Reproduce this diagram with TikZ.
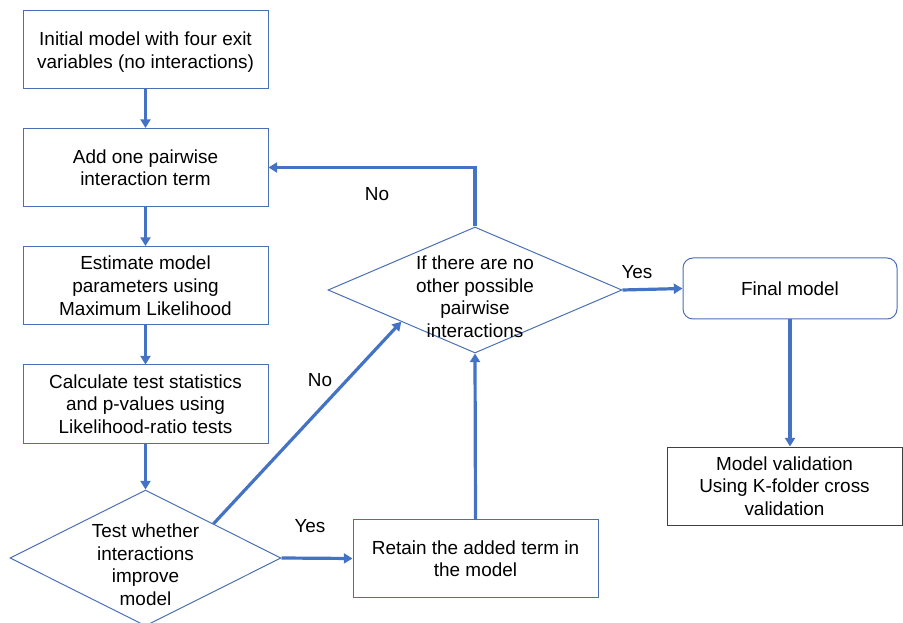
\documentclass[tikz,border=0pt]{standalone}
\usepackage{fontspec}
\setmainfont{Liberation Sans}
\usepackage{tikz}
\usetikzlibrary{arrows.meta,shapes.geometric}
\definecolor{fcBlue}{HTML}{4472C4}
\definecolor{fcEdge}{HTML}{4A6FB5}
\definecolor{fcGrey}{HTML}{404040}

\begin{document}
\begin{tikzpicture}[x=0.75pt,y=-0.75pt,
  font=\fontsize{14.2}{17}\selectfont,
  stepbox/.style={draw=fcEdge,line width=0.75pt,align=center,
    minimum width=183.75pt,minimum height=58.5pt,inner sep=0pt,
    text depth=-6pt},
  decision/.style={draw=fcEdge,line width=0.75pt,diamond,inner sep=0pt},
  flow/.style={draw=fcBlue,line width=2.4pt,
    -{Triangle[length=6.5pt,width=7.5pt]}}]
  \useasboundingbox (0,0) rectangle (903,623);
  % left column
  \node[stepbox] (init) at (145.5,50)
    {Initial model with four exit\\variables (no interactions)};
  \node[stepbox] (addterm) at (145.5,167.5)
    {Add one pairwise\\interaction term};
  \node[stepbox] (estimate) at (145.5,285.5)
    {Estimate model\\parameters using\\Maximum Likelihood};
  \node[stepbox] (calc) at (145.5,404)
    {Calculate test statistics\\and p-values using\\Likelihood-ratio tests};
  \node[decision,minimum width=203.25pt,minimum height=102pt] (test)
    at (145.5,558) {};
  \node[align=center] (test-txt) at ([yshift=-5pt]test)
    {Test whether\\interactions\\improve\\model};
  % middle
  \node[stepbox] (retain) at (475.5,558.5)
    {Retain the added term in\\the model};
  \node[decision,minimum width=220.5pt,minimum height=94.5pt] (stop)
    at (475,290) {};
  \node[align=center] (stop-txt) at ([yshift=-5pt]stop)
    {If there are no\\other possible\\pairwise\\interactions};
  % right column
  \node[stepbox,rounded corners=7.5pt,minimum width=160.5pt,
    minimum height=45.75pt] (final) at (790,288.5) {Final model};
  \node[stepbox,draw=fcGrey,minimum width=176.25pt] (valid) at (784.5,486)
    {Model validation\\Using K-folder cross\\validation};
  % connectors
  \foreach \a/\b in {init/addterm,addterm/estimate,estimate/calc,calc/test}
    \draw[flow] (\a) -- (\b);
  \draw[flow] (test.east) -- (retain.west);
  \draw[flow] (retain.north) -- (stop.south);
  \draw[flow] (test.north east) -- (stop.south west);
  \draw[flow] (stop.north) |- (addterm.east);
  \draw[flow] (stop.east) -- (final.west);
  \draw[flow] (final.south) -- (final.south |- valid.north);
  % labels
  \node (yes-a) at (310,526) {Yes};
  \node (no-a) at (320,380) {No};
  \node (no-b) at (377,194) {No};
  \node (yes-b) at (637,272) {Yes};
\end{tikzpicture}
\end{document}
